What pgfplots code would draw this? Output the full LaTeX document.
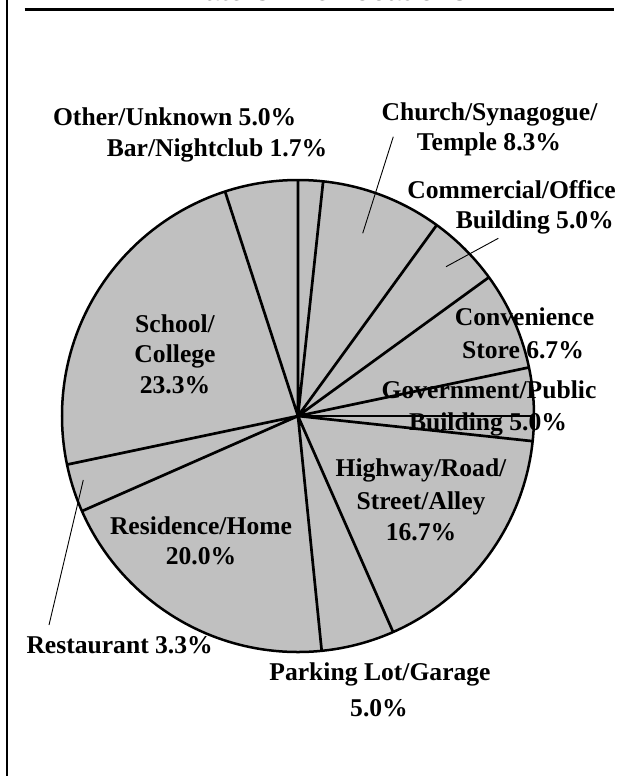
\documentclass[border=0pt]{standalone}
\usepackage{pgfplots}
\usepackage{pgfplotstable}
\pgfplotsset{compat=1.18}
\usepgfplotslibrary{polar}
\usepackage{fontspec}
\setmainfont{Liberation Serif}
\newfontfamily\titlefont{Liberation Sans}
\definecolor{pieGray}{RGB}{192,192,192}

% share of each location (percent), clockwise from 12 o'clock
\pgfplotstableread{
loc pct
Bar 1.7
Church 8.3
Commercial 5.0
Convenience 6.7
Government 5.0
Highway 16.7
Parking 5.0
Residence 20.0
Restaurant 3.3
School 23.3
Other 5.0
}\sharetable
\pgfplotstablecreatecol[expr accum={\pgfmathaccuma + \thisrow{pct}}{0}]{cum}{\sharetable}

\begin{document}
\begin{tikzpicture}
\useasboundingbox (0pt,0pt) rectangle (629pt,-776pt);
\begin{polaraxis}[
  at={(298pt,-416pt)}, anchor=center,
  scale only axis, width=472pt, height=472pt,
  xmin=0, xmax=360, ymin=0, ymax=1,
  xtick=\empty, ytick=\empty,
  axis line style={line width=2.5pt, black},
  axis background/.style={fill=pieGray},
  clip=false,
]
\addplot[polar comb, mark=none, line width=2.7pt, black]
  table[x expr={90-3.6*\thisrow{cum}}, y expr=1] {\sharetable};
\end{polaraxis}
\begin{scope}[x=1pt,y=-1pt]
% frame
\draw[line width=2.4pt] (7.2,0) -- (7.2,776);
\draw[line width=3.4pt] (24.5,9.5) -- (614,9.5);
\node[anchor=base, inner sep=0pt, text=black] at (326,1)
  {\titlefont\bfseries\fontsize{27.5}{30}\selectfont Hate Crime Locations};
% leader lines
\draw[line width=0.9pt] (393.3,136.7) -- (362.7,233.3);
\draw[line width=0.9pt] (498.3,238.3) -- (446,266.7);
\draw[line width=0.9pt] (49,625) -- (83.3,480);
% labels
\begin{scope}[every node/.style={inner sep=0pt, anchor=base,
   font=\bfseries\fontsize{25.6}{30}\selectfont}]
\node at (174.7,125) {Other/Unknown 5.0\%};
\node at (217,156) {Bar/Nightclub 1.7\%};
\node at (489.5,120) {Church/Synagogue/};
\node at (489,150.7) {Temple 8.3\%};
\node[anchor=base east] at (616,198.3) {Commercial/Office};
\node[anchor=base east] at (614,228) {Building 5.0\%};
\node at (524.5,325.7) {Convenience};
\node at (523,358.3) {Store 6.7\%};
\node at (489,398.3) {Government/Public};
\node at (488,430) {Building 5.0\%};
\node at (421,476.7) {Highway/Road/};
\node at (421,509) {Street/Alley};
\node at (421,540) {16.7\%};
\node at (380,680) {Parking Lot/Garage};
\node at (379,716) {5.0\%};
\node at (201,534) {Residence/Home};
\node at (201,564) {20.0\%};
\node[anchor=base east] at (213,653) {Restaurant 3.3\%};
\node at (175,332) {School/};
\node at (175,362) {College};
\node at (175,393) {23.3\%};
\end{scope}
\end{scope}
\end{tikzpicture}
\end{document}
